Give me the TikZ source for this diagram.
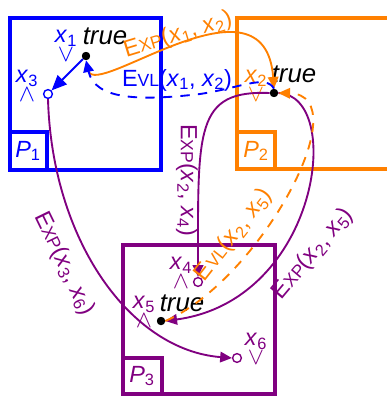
\documentclass[tikz,border=0pt]{standalone}
\usepackage{fontspec}
\setmainfont{Liberation Sans}
\usetikzlibrary{arrows.meta}
\definecolor{pblue}{RGB}{0,0,255}
\definecolor{porange}{RGB}{255,128,0}
\definecolor{ppurple}{RGB}{128,0,128}
\newcommand{\xv}[1]{\textit{x}\textsubscript{#1}}
\newcommand{\smc}[1]{{\fontsize{15}{16}\selectfont #1}}

\begin{document}
\begin{tikzpicture}[x=0.03cm,y=-0.03cm,
    every node/.style={font=\fontsize{20}{16}\selectfont},
    procbox/.style={line width=2.8pt},
    tval/.style={circle,fill=black,inner sep=0pt,minimum size=7pt},
    uval/.style={circle,draw=#1,fill=white,line width=1.2pt,inner sep=0pt,minimum size=7.5pt},
    vlab/.style={align=center,inner sep=0pt},
    tlab/.style={font=\fontsize{22}{16}\selectfont\itshape},
    msg/.style={line width=1.6pt,-{Triangle[length=10pt,width=9pt]}},
    lazy/.style={dash pattern=on 8pt off 7pt}]
    \useasboundingbox (0,0) rectangle (386,396);
    % Processes
    \draw[procbox,pblue] (10,18) rectangle (161,170);
    \draw[procbox,pblue] (10,132) rectangle (47,170);
    \draw[procbox,porange] (237,18) rectangle (400,169);
    \draw[procbox,porange] (237,132) rectangle (275,169);
    \draw[procbox,ppurple] (123,245) rectangle (275,394);
    \draw[procbox,ppurple] (123,358) rectangle (162,394);
    \node[pblue] (p1) at (28,151) {\textit{P}\textsubscript{1}};
    \node[porange] (p2) at (256,151) {\textit{P}\textsubscript{2}};
    \node[ppurple] (p3) at (142,376) {\textit{P}\textsubscript{3}};
    % Variables
    \node[tval] (x1) at (86,56) {};
    \node[uval=pblue] (x3) at (48,94) {};
    \node[tval] (x2) at (274,93) {};
    \node[uval=ppurple] (x4) at (198,282) {};
    \node[tval] (x5) at (161,321) {};
    \node[uval=ppurple] (x6) at (237,358) {};
    \node[vlab,pblue] (lx1) at (66,46) {\xv{1}\\$\vee$};
    \node[vlab,pblue] (lx3) at (27,86) {\xv{3}\\$\wedge$};
    \node[vlab,porange] (lx2) at (256,86) {\xv{2}\\$\vee$};
    \node[vlab,ppurple] (lx4) at (181,273) {\xv{4}\\$\wedge$};
    \node[vlab,ppurple] (lx5) at (144,312) {\xv{5}\\$\wedge$};
    \node[vlab,ppurple] (lx6) at (256,349) {\xv{6}\\$\vee$};
    \node[tlab] (t1) at (105,36) {true};
    \node[tlab] (t2) at (294,74) {true};
    \node[tlab] (t5) at (182,303) {true};
    % Messages
    \draw[msg,pblue,-{Triangle[length=13pt,width=11pt]}] (x1) -- (x3);
    \draw[msg,porange,shorten <=9pt] (x1.south) .. controls (95,100) and (265,-35) .. (x2.north);
    \draw[msg,pblue,lazy] (x2.north) .. controls (266,74) and (240,88) .. (200,94)
      .. controls (140,101) and (95,100) .. (x1.south);
    \draw[msg,ppurple] (x2.west) .. controls (195,90) and (198,130) .. (x4.north);
    \draw[msg,ppurple] (x2.east) .. controls (345,95) and (320,300) .. (x5.east);
    \draw[msg,porange,lazy] (x5.east) .. controls (260,280) and (360,95) .. (x2.east);
    \draw[msg,ppurple] (x3.south) .. controls (52,240) and (130,350) .. (x6.west);
    \node[tval] at (x1) {};
    \node[tval] at (x2) {};
    \node[tval] at (x5) {};
    % Message labels
    \node[porange,rotate=17] (m12) at (178,35) {E\smc{XP}(\xv{1}, \xv{2})};
    \node[pblue] (e12) at (177,80) {E\smc{VL}(\xv{1}, \xv{2})};
    \node[ppurple,rotate=-90] (m24) at (187,180) {E\smc{XP}(\xv{2}, \xv{4})};
    \node[ppurple,rotate=-64] (m36) at (64,264) {E\smc{XP}(\xv{3}, \xv{6})};
    \node[porange,rotate=52] (e25) at (234,235) {E\smc{VL}(\xv{2}, \xv{5})};
    \node[ppurple,rotate=50] (m25) at (313,254) {E\smc{XP}(\xv{2}, \xv{5})};
\end{tikzpicture}
\end{document}
